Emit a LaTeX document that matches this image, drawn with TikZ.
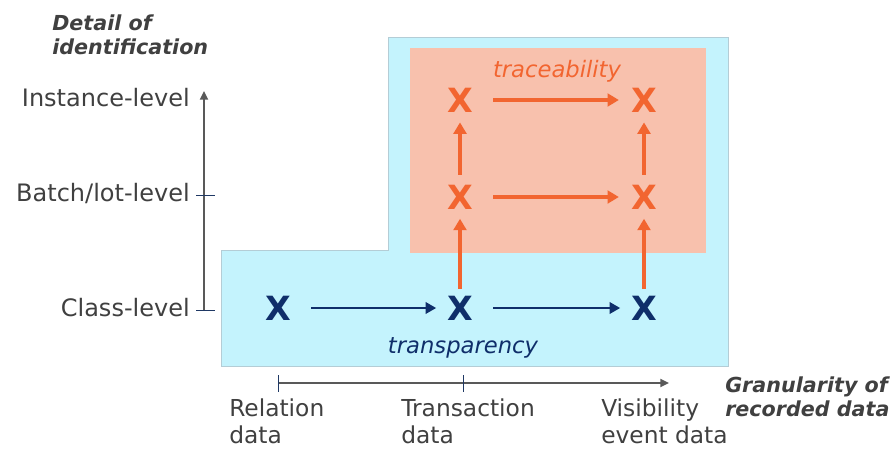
\documentclass[tikz,border=0pt]{standalone}
\usepackage{fontspec}
\setmainfont{DejaVu Sans}
\usetikzlibrary{arrows.meta}
\definecolor{zoneblue}{HTML}{C4F3FD}
\definecolor{zoneedge}{HTML}{B4CDD6}
\definecolor{zonesalmon}{HTML}{F8C1AD}
\definecolor{traceorange}{HTML}{F26530}
\definecolor{transnavy}{HTML}{0F2E6A}
\definecolor{textgray}{HTML}{404040}
\definecolor{axisgray}{HTML}{595959}
\definecolor{ticknavy}{HTML}{1F3864}
\tikzset{
  lvl/.style={font=\fontsize{18pt}{20pt}\selectfont, text=textgray, inner sep=0pt, anchor=base east},
  % multi-line labels: the base anchor sits on the last line
  datalbl/.style={font=\fontsize{17.5pt}{20.25pt}\selectfont, text=textgray, inner sep=0pt, align=left, anchor=base west},
  axtitle/.style={font=\fontsize{15.5pt}{18pt}\selectfont\bfseries\itshape, text=textgray, inner sep=0pt, align=left, anchor=base west},
  zonetitle/.style={font=\fontsize{17pt}{20pt}\selectfont\itshape, inner sep=0pt, anchor=base},
  xmark/.style={font=\fontsize{25pt}{28pt}\selectfont\bfseries, inner sep=0pt},
  ox/.style={xmark, text=traceorange},
  nx/.style={xmark, text=transnavy},
  oarrow/.style={draw=traceorange, line width=2.3pt, -{Triangle[length=8.5pt,width=9.5pt]}},
  narrow/.style={draw=transnavy, line width=2pt, -{Triangle[length=8pt,width=8.5pt]}},
  axis/.style={draw=axisgray, line width=1.3pt, -{Triangle[length=6.5pt,width=6pt]}},
  tick/.style={draw=ticknavy, line width=0.75pt},
}
\begin{document}
\begin{tikzpicture}[x=0.75pt,y=-0.75pt]
\useasboundingbox (0,0) rectangle (893,450);

% shaded zones
\draw[fill=zoneblue, draw=zoneedge, line width=0.75pt]
  (388,37) -- (728,37) -- (728,366) -- (221,366) -- (221,250) -- (388,250) -- cycle;
\fill[zonesalmon] (410,48) rectangle (706,253);

% zone titles
\node[zonetitle, text=traceorange] (trace) at (557,77) {traceability};
\node[zonetitle, text=transnavy] (transp) at (463,353) {transparency};

% marks
\node[ox] (t1) at (460,100) {X};
\node[ox] (t2) at (644,100) {X};
\node[ox] (m1) at (460,197) {X};
\node[ox] (m2) at (644,197) {X};
\node[nx] (c1) at (278,308) {X};
\node[nx] (c2) at (460,308) {X};
\node[nx] (c3) at (644,308) {X};

% traceability links
\draw[oarrow, shorten <=15pt, shorten >=9pt] (t1) -- (t2);
\draw[oarrow, shorten <=15pt, shorten >=9pt] (m1) -- (m2);
\draw[oarrow, shorten <=7.5pt, shorten >=7.5pt] (m1) -- (t1);
\draw[oarrow, shorten <=7.5pt, shorten >=7.5pt] (m2) -- (t2);
\draw[oarrow, shorten <=5pt, shorten >=7pt] (c2) -- (m1);
\draw[oarrow, shorten <=5pt, shorten >=7pt] (c3) -- (m2);

% transparency links
\draw[narrow, shorten <=15pt, shorten >=8pt] (c1) -- (c2);
\draw[narrow, shorten <=15pt, shorten >=8pt] (c2) -- (c3);

% vertical axis
\coordinate (yb) at (204,310);
\coordinate (yt) at (204,91);
\draw[axis] (yb) -- (yt);
\draw[tick] (196,195) -- (215,195);
\draw[tick] (196,310) -- (215,310);
\node[lvl] (inst) at (190,106) {Instance-level};
\node[lvl] (batch) at (190,201) {Batch/lot-level};
\node[lvl] (cls) at (190,316) {Class-level};
\node[axtitle] (ytitle) at (52,54) {Detail of\\identification};

% horizontal axis
\coordinate (xl) at (278,383);
\coordinate (xr) at (669,383);
\draw[axis] (xl) -- (xr);
\draw[tick] (278,375) -- (278,392);
\draw[tick] (463,375) -- (463,392);
\node[datalbl] (rel) at (229,443) {Relation\\data};
\node[datalbl] (trn) at (401,443) {Transaction\\data};
\node[datalbl] (vis) at (601,443) {Visibility\\event data};
\node[axtitle] (xtitle) at (725,416) {Granularity of\\recorded data};
\end{tikzpicture}
\end{document}
